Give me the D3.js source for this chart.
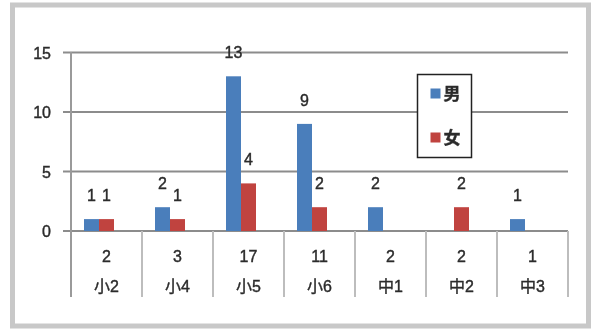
<!DOCTYPE html>
<html>
<head>
<meta charset="utf-8">
<script src="https://cdn.jsdelivr.net/npm/d3@7"></script>
<style>
  html, body { margin: 0; padding: 0; background: #fff; }
  svg { display: block; filter: blur(0.4px); }
  text { font-family: "Liberation Sans", "Noto Sans CJK SC", sans-serif; fill: #2b2b2b; stroke: #2b2b2b; stroke-width: 0.4px; }
</style>
</head>
<body>
<div id="chart"></div>
<script>
// grade groups, and counts per group
const categories = ["小2", "小4", "小5", "小6", "中1", "中2", "中3"];
const seriesNames = ["男", "女", "計"];
const boys = [1, 2, 13, 9, 2, 0, 1];
const girls = [1, 1, 4, 2, 0, 2, 0];
const totals = [2, 3, 17, 11, 2, 2, 1];
const yTicks = [0, 5, 10, 15];

const colors = { "男": "#4a7ebb", "女": "#c0433f" };

const W = 591, H = 329;
const svg = d3.select('#chart').append('svg')
  .attr('width', W)
  .attr('height', H);

// outer grey frame
svg.append('rect')
  .attr('x', 12.5).attr('y', 5)
  .attr('width', 576).attr('height', 321)
  .attr('fill', '#fff')
  .attr('stroke', '#c8c8c8')
  .attr('stroke-width', 5);

const xScale = d3.scaleBand()
  .domain(categories)
  .range([71, 568]);

const inner = d3.scaleBand()
  .domain(seriesNames)
  .range([13, xScale.bandwidth() - 13]);

const yScale = d3.scaleLinear()
  .domain([0, 15])
  .range([231, 52.5]);

// gridlines (with short tick stub left of the axis)
svg.append('g').selectAll('line')
  .data(yTicks)
  .join('line')
  .attr('x1', 63).attr('x2', 568)
  .attr('y1', d => yScale(d)).attr('y2', d => yScale(d))
  .attr('stroke', '#8c8c8c')
  .attr('stroke-width', 2);

svg.append('g').selectAll('text')
  .data(yTicks)
  .join('text')
  .attr('x', 51)
  .attr('y', d => yScale(d) + 6)
  .attr('text-anchor', 'end')
  .style('font-size', '16px')
  .text(d => d);

// table vertical lines
const bounds = categories.map(c => xScale(c)).concat([568]);
svg.append('g').selectAll('line')
  .data(bounds)
  .join('line')
  .attr('x1', d => d).attr('x2', d => d)
  .attr('y1', (d, i) => i === 0 ? 52 : 231)
  .attr('y2', 297)
  .attr('stroke', (d, i) => i === 0 ? '#9a9a9a' : '#bdbdbd')
  .attr('stroke-width', 2);

// bars
const barData = [];
categories.forEach((c, i) => {
  barData.push({ cat: c, s: "男", v: boys[i] });
  barData.push({ cat: c, s: "女", v: girls[i] });
});

svg.append('g').selectAll('rect')
  .data(barData.filter(d => d.v > 0))
  .join('rect')
  .attr('x', d => xScale(d.cat) + inner(d.s))
  .attr('y', d => yScale(d.v))
  .attr('width', inner.bandwidth())
  .attr('height', d => yScale(0) - yScale(d.v))
  .attr('fill', d => colors[d.s]);

// value labels
svg.append('g').selectAll('text')
  .data(barData.filter(d => d.v > 0))
  .join('text')
  .attr('x', d => xScale(d.cat) + inner(d.s) + inner.bandwidth() / 2)
  .attr('y', d => yScale(d.v) - 18)
  .attr('text-anchor', 'middle')
  .style('font-size', '16px')
  .text(d => d.v);

// data table rows: totals and category names
svg.append('g').selectAll('text')
  .data(totals)
  .join('text')
  .attr('x', (d, i) => xScale(categories[i]) + xScale.bandwidth() / 2)
  .attr('y', 262)
  .attr('text-anchor', 'middle')
  .style('font-size', '16px')
  .text(d => d);

svg.append('g').selectAll('text')
  .data(categories)
  .join('text')
  .attr('x', d => xScale(d) + xScale.bandwidth() / 2)
  .attr('y', 292)
  .attr('text-anchor', 'middle')
  .style('font-size', '16px')
  .text(d => d);

// legend
const legend = svg.append('g').attr('transform', 'translate(417.5, 74.5)');
legend.append('rect')
  .attr('width', 54).attr('height', 83)
  .attr('fill', '#fff')
  .attr('stroke', '#222')
  .attr('stroke-width', 1.5);

const items = legend.selectAll('g.item')
  .data(["男", "女"])
  .join('g')
  .attr('class', 'item')
  .attr('transform', (d, i) => `translate(0, ${19 + i * 44})`);

items.append('rect')
  .attr('x', 13).attr('y', -5)
  .attr('width', 10).attr('height', 10)
  .attr('fill', d => colors[d]);

items.append('text')
  .attr('x', 26)
  .attr('y', 6)
  .style('font-size', '17px')
  .style('font-weight', 'bold')
  .text(d => d);
</script>
</body>
</html>
